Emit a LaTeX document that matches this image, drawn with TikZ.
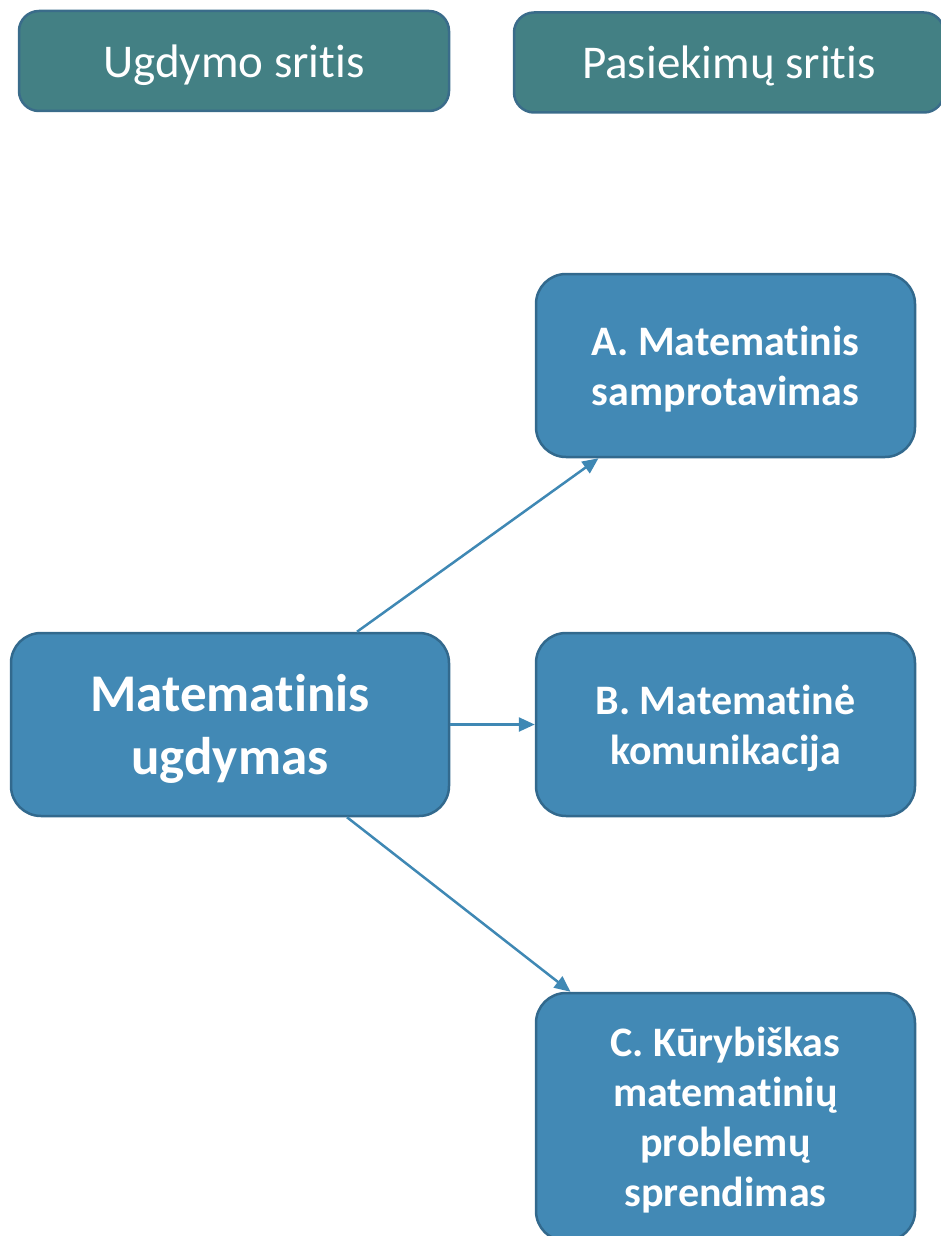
\documentclass[tikz,border=0pt]{standalone}
\usepackage{fontspec}
\setmainfont{Carlito}[Ligatures=NoCommon]
\usetikzlibrary{arrows.meta}
\definecolor{tealfill}{HTML}{438084}
\definecolor{tealline}{HTML}{3A6C8A}
\definecolor{bluefill}{HTML}{4289B5}
\definecolor{blueline}{HTML}{32698D}
\definecolor{arrowcol}{HTML}{3F88B4}
\tikzset{
  head/.style={draw=tealline, fill=tealfill, line width=2.5pt, rounded corners=20pt,
    minimum width=430pt, minimum height=100pt, inner sep=0pt, text=white, text depth=0pt,
    font=\fontsize{47}{56}\selectfont},
  area/.style={draw=blueline, fill=bluefill, line width=2.5pt, rounded corners=30pt,
    minimum width=379pt, minimum height=183pt, inner sep=0pt, text=white, text depth=0pt,
    align=center, font=\bfseries\fontsize{42}{50}\selectfont},
  link/.style={draw=arrowcol, line width=2.5pt, -{Triangle[length=16pt,width=14pt]}}
}
\begin{document}
\begin{tikzpicture}[x=1pt,y=-1pt]
  \useasboundingbox (0,0) rectangle (940,1236);
  \node[head] (ugd) at (234,61) {Ugdymo sritis};
  \node[head] (pas) at (729,62.5) {Pasiekimų sritis};
  \node[area, minimum width=438pt, font=\bfseries\fontsize{53}{63}\selectfont] (mat) at (230,724.5) {Matematinis\\ugdymas};
  \node[area] (a) at (725.5,365.5) {A. Matematinis\\samprotavimas};
  \node[area] (b) at (725.5,724.5) {B. Matematinė\\komunikacija};
  \node[area, minimum height=248pt] (c) at (725.5,1117) {C. Kūrybiškas\\matematinių\\problemų\\sprendimas};
  \draw[link] ([xshift=127pt]mat.north) -- ([xshift=-127pt]a.south);
  \draw[link] (mat.east) -- (b.west);
  \draw[link] ([xshift=117pt]mat.south) -- ([xshift=-155pt]c.north);
\end{tikzpicture}
\end{document}
